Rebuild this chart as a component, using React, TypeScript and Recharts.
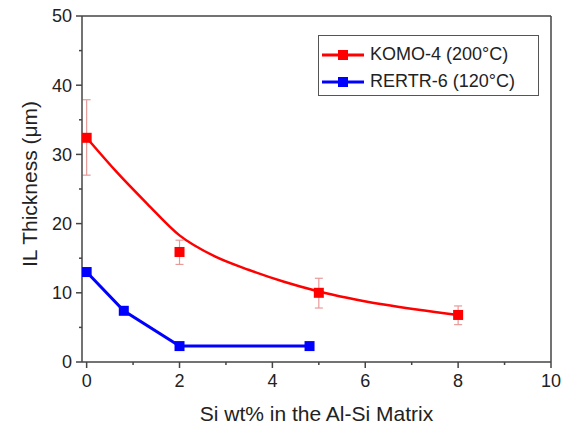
import React from 'react';
import {
  ComposedChart,
  Line,
  Scatter,
  XAxis,
  YAxis,
  ErrorBar,
  Legend,
  ReferenceLine,
} from 'recharts';

// KOMO-4 (200°C) measured points + error bar limits
const komoX = [0, 2, 5, 8];
const komoY = [32.4, 15.9, 10.0, 6.8];
const komoLow = [27.0, 14.1, 7.8, 5.4];
const komoHigh = [37.9, 17.6, 12.1, 8.1];

// fitted curve through KOMO-4
const fitX = [0, 0.6, 1.3, 2, 2.75, 3.5, 4.25, 5, 6.4, 8];
const fitY = [32.4, 27.8, 22.9, 18.3, 15.3, 13.3, 11.6, 10.2, 8.3, 6.8];

// RERTR-6 (120°C)
const rertrX = [0, 0.8, 2, 4.8];
const rertrY = [13.0, 7.4, 2.3, 2.3];

const xTicks = [0, 1, 2, 3, 4, 5, 6, 7, 8, 9, 10];
const xLabels = [0, 2, 4, 6, 8, 10];
const yTicks = [0, 5, 10, 15, 20, 25, 30, 35, 40, 45, 50];
const yLabels = [0, 10, 20, 30, 40, 50];

const RED = '#ff0000';
const BLUE = '#0000ff';
const AXIS = '#444';
const FONT = '"Liberation Sans", Arial, sans-serif';

const komoData = komoX.map((x, i) => ({
  x,
  y: komoY[i],
  err: [komoY[i] - komoLow[i], komoHigh[i] - komoY[i]],
}));
const fitData = fitX.map((x, i) => ({ x, y: fitY[i] }));
const rertrData = rertrX.map((x, i) => ({ x, y: rertrY[i] }));

const Square = ({ cx, cy, fill }: any) => (
  <rect x={cx - 5} y={cy - 5} width={10} height={10} fill={fill} />
);

const XTick = ({ x, y, payload }: any) => {
  const major = xLabels.includes(payload.value);
  return (
    <g>
      <line x1={x} x2={x} y1={y} y2={y + (major ? 6 : 3)} stroke={AXIS} strokeWidth={1.5} />
      {major && (
        <text x={x} y={y + 12} dy="0.71em" textAnchor="middle" fontSize={18} fill="#222" fontFamily={FONT}>
          {payload.value}
        </text>
      )}
    </g>
  );
};

const YTick = ({ x, y, payload }: any) => {
  const major = yLabels.includes(payload.value);
  return (
    <g>
      <line x1={x} x2={x - (major ? 6 : 3)} y1={y} y2={y} stroke={AXIS} strokeWidth={1.5} />
      {major && (
        <text x={x - 10} y={y} dy="0.35em" textAnchor="end" fontSize={18} fill="#222" fontFamily={FONT}>
          {payload.value}
        </text>
      )}
    </g>
  );
};

const legendItems = [
  { name: 'KOMO-4 (200°C)', color: RED },
  { name: 'RERTR-6 (120°C)', color: BLUE },
];

const renderLegend = () => (
  <div
    style={{
      border: '1px solid #555',
      boxSizing: 'border-box',
      width: 221,
      height: 61,
      padding: '5px 0 0 3px',
      fontFamily: FONT,
      fontSize: 18,
      color: '#222',
    }}
  >
    {legendItems.map((it) => (
      <div key={it.name} style={{ display: 'flex', alignItems: 'center', height: 27 }}>
        <svg width={42} height={14}>
          <line x1={0} x2={42} y1={7} y2={7} stroke={it.color} strokeWidth={3} />
          <rect x={16} y={2} width={10} height={10} fill={it.color} />
        </svg>
        <span style={{ marginLeft: 6, whiteSpace: 'nowrap' }}>{it.name}</span>
      </div>
    ))}
  </div>
);

export default function App() {
  return (
    <div style={{ position: 'absolute', left: 0, top: 0, width: 562, height: 425, background: '#fff' }}>
      <ComposedChart width={562} height={425} margin={{ top: 16, right: 11, bottom: 0, left: 0 }}>
        <XAxis
          type="number"
          dataKey="x"
          domain={[-0.1, 10]}
          ticks={xTicks}
          interval={0}
          height={63}
          tickSize={0}
          tickMargin={0}
          tickLine={false}
          tick={<XTick />}
          axisLine={{ stroke: AXIS, strokeWidth: 1.5 }}
          allowDataOverflow
          label={{
            content: ({ viewBox }: any) => (
              <text
                x={viewBox.x + viewBox.width / 2}
                y={viewBox.y + 59}
                textAnchor="middle"
                fontSize={21}
                fill="#222"
                fontFamily={FONT}
              >
                Si wt% in the Al-Si Matrix
              </text>
            ),
          }}
        />
        <YAxis
          type="number"
          dataKey="y"
          domain={[0, 50]}
          ticks={yTicks}
          interval={0}
          width={82}
          tickSize={0}
          tickMargin={0}
          tickLine={false}
          tick={<YTick />}
          axisLine={{ stroke: AXIS, strokeWidth: 1.5 }}
          label={{
            content: ({ viewBox }: any) => {
              const cx = viewBox.x + 29;
              const cy = viewBox.y + viewBox.height / 2 - 5;
              return (
                <text
                  x={cx}
                  y={cy}
                  transform={`rotate(-90 ${cx} ${cy})`}
                  textAnchor="middle"
                  dominantBaseline="central"
                  fontSize={21}
                  fill="#222"
                  fontFamily={FONT}
                >
                  IL Thickness (μm)
                </text>
              );
            },
          }}
        />
        <ReferenceLine y={50} stroke={AXIS} strokeWidth={1.5} />
        <ReferenceLine x={10} stroke={AXIS} strokeWidth={1.5} />
        <Legend
          layout="vertical"
          align="center"
          verticalAlign="middle"
          content={renderLegend}
          wrapperStyle={{ left: 318, top: 35, width: 221, height: 61 }}
        />
        <Line
          data={fitData}
          dataKey="y"
          type="monotone"
          stroke={RED}
          strokeWidth={2.5}
          dot={false}
          activeDot={false}
          isAnimationActive={false}
          legendType="none"
        />
        <Line
          data={rertrData}
          dataKey="y"
          type="linear"
          stroke={BLUE}
          strokeWidth={3}
          dot={(p: any) => <Square key={p.index} cx={p.cx} cy={p.cy} fill={BLUE} />}
          activeDot={false}
          isAnimationActive={false}
        />
        <Scatter
          data={komoData}
          dataKey="y"
          fill={RED}
          shape={(p: any) => <Square cx={p.cx} cy={p.cy} fill={RED} />}
          isAnimationActive={false}
        >
          <ErrorBar dataKey="err" direction="y" width={4} stroke="#e89a9a" strokeWidth={1.2} />
        </Scatter>
      </ComposedChart>
    </div>
  );
}
